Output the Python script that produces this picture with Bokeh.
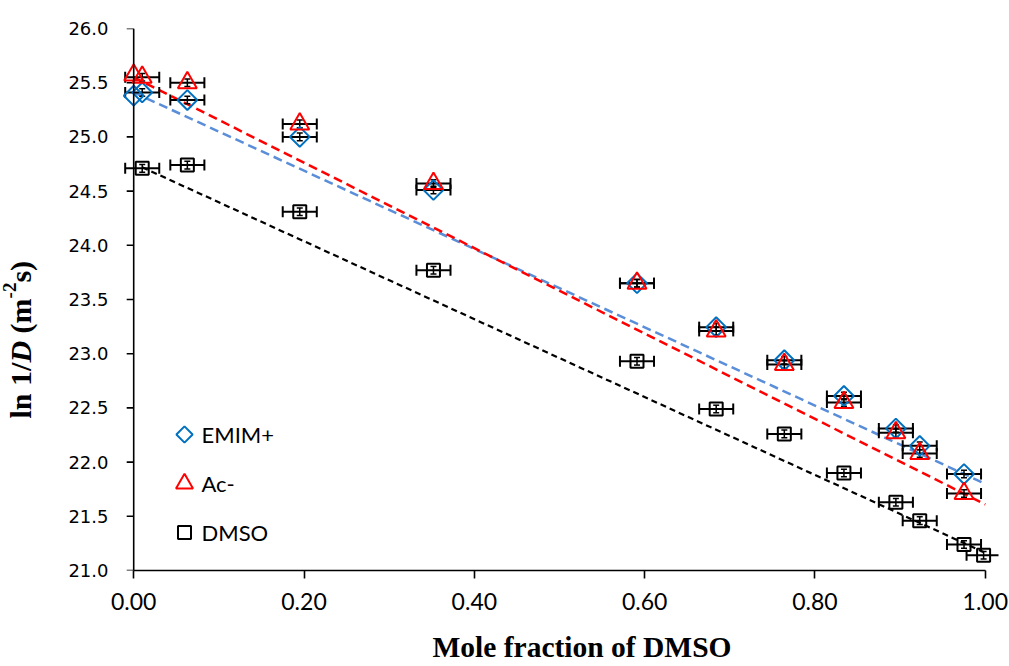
import numpy as np
from bokeh.plotting import figure
from bokeh.layouts import row
from bokeh.models import (ColumnDataSource, Range1d, FixedTicker, NumeralTickFormatter,
                          Span, Title)
from bokeh.core.properties import value
from bokeh.embed import file_html
from bokeh.resources import INLINE

# ---------------- data ----------------
x_ion = [0.0, 0.010, 0.063, 0.195, 0.352, 0.591, 0.684, 0.764, 0.834, 0.895, 0.923, 0.975]
emim = [25.38, 25.41, 25.34, 25.00, 24.51, 23.65, 23.245, 22.94, 22.61, 22.31, 22.15, 21.89]
ac = [25.57, 25.55, 25.50, 25.12, 24.57, 23.65, 23.21, 22.90, 22.55, 22.27, 22.08, 21.71]
xerr_ion = [0.0, 0.02, 0.02, 0.02, 0.02, 0.02, 0.02, 0.02, 0.02, 0.02, 0.02, 0.02]
yerr_ion = [0.0, 0.035, 0.035, 0.035, 0.035, 0.035, 0.035, 0.035, 0.035, 0.035, 0.035, 0.035]

x_dmso = [0.010, 0.063, 0.195, 0.352, 0.591, 0.684, 0.764, 0.834, 0.895, 0.923, 0.975, 0.998]
dmso = [24.71, 24.74, 24.31, 23.77, 22.93, 22.49, 22.26, 21.90, 21.63, 21.46, 21.24, 21.14]
xerr_dmso = [0.02, 0.02, 0.02, 0.02, 0.02, 0.02, 0.02, 0.02, 0.02, 0.02, 0.02, 0.02]
yerr_dmso = [0.035, 0.035, 0.035, 0.035, 0.035, 0.035, 0.035, 0.035, 0.035, 0.035, 0.035, 0.035]

# linear trend lines (end points)
emim_fit_x = [0.0, 1.0]
emim_fit_y = [25.41, 21.80]
ac_fit_x = [0.0, 1.0]
ac_fit_y = [25.55, 21.61]
dmso_fit_x = [0.010, 0.998]
dmso_fit_y = [24.72, 21.17]

x_ticks = [0.0, 0.2, 0.4, 0.6, 0.8, 1.0]
y_ticks = [21.0, 21.5, 22.0, 22.5, 23.0, 23.5, 24.0, 24.5, 25.0, 25.5, 26.0]

series_names = ["EMIM+", "Ac-", "DMSO"]
series_colors = ["#0070C0", "#FF0000", "black"]

x_title = "Mole fraction of DMSO"
# y title pieces: (text, style, font size, baseline shift px, advance px)
y_title_pieces = [("ln 1/", "bold", "30px", 0.0, 55.9),
                  ("D", "bold italic", "30px", 0.0, 29.2),
                  ("(m", "bold", "30px", 0.0, 35.0),
                  ("-2", "bold", "19px", -11.0, 15.8),
                  ("s)", "bold", "30px", 0.0, 21.7)]

# ---------------- layout constants (pixels) ----------------
TITLE_W = 60
W, H = 1009, 666
FRAME_L, FRAME_R, FRAME_T, FRAME_B = 120, 998, 28, 570
X_LO, X_HI = -0.0155, 1.0155
Y_LO, Y_HI = 21.0, 26.0
px_per_x = (FRAME_R - FRAME_L) / (X_HI - X_LO)
px_per_y = (FRAME_B - FRAME_T) / (Y_HI - Y_LO)


def dx(px):
    return X_LO + (px - FRAME_L) / px_per_x


def dy(py):
    return Y_HI - (py - FRAME_T) / px_per_y


# ---------------- main figure ----------------
p = figure(frame_width=FRAME_R - FRAME_L, frame_height=FRAME_B - FRAME_T,
           output_backend="svg", toolbar_location=None, title=None,
           x_range=Range1d(X_LO, X_HI), y_range=Range1d(Y_LO, Y_HI),
           min_border_left=FRAME_L - TITLE_W, min_border_right=W - FRAME_R,
           min_border_top=FRAME_T, min_border_bottom=H - FRAME_B)
p.outline_line_color = None
p.xgrid.visible = False
p.ygrid.visible = False
p.background_fill_color = "white"
p.border_fill_color = "white"

xa = p.xaxis[0]
xa.ticker = FixedTicker(ticks=x_ticks)
xa.formatter = NumeralTickFormatter(format="0.00")
xa.bounds = (0, 1)
xa.axis_line_color = "black"
xa.axis_line_width = 1.6
xa.major_tick_line_width = 1.6
xa.major_tick_out = 8
xa.major_tick_in = 0
xa.minor_tick_line_color = None
xa.major_label_text_font = "Lato"
xa.major_label_text_font_size = "23px"
xa.major_label_text_color = "black"
xa.major_label_standoff = 14

ya = p.yaxis[0]
ya.ticker = FixedTicker(ticks=y_ticks)
ya.formatter = NumeralTickFormatter(format="0.0")
ya.axis_line_color = None
ya.major_tick_line_color = None
ya.major_tick_out = 0
ya.major_tick_in = 0
ya.minor_tick_line_color = None
ya.major_label_text_font = "DejaVu Sans"
ya.major_label_text_font_size = "18px"
ya.major_label_text_color = "black"
ya.major_label_standoff = 12

# y axis line and ticks drawn at x = 0
p.add_layout(Span(location=0, dimension="height", line_color="black", line_width=1.6))
tick_len = 7 / px_per_x
p.segment(x0=[-tick_len] * len(y_ticks), x1=[0] * len(y_ticks), y0=y_ticks, y1=y_ticks,
          line_color="black", line_width=1.6)

# x axis title
p.add_layout(Title(text=x_title, align="left", offset=432 - FRAME_L,
                   text_font="Liberation Serif", text_font_style="bold",
                   text_font_size="29.5px", text_color="black", standoff=32), "below")

# trend lines
p.line(emim_fit_x, emim_fit_y, line_color="#5A8ED8", line_width=2.5, line_dash="9 5")
p.line(ac_fit_x, ac_fit_y, line_color="#FF0000", line_width=2.5, line_dash="9 5")
p.line(dmso_fit_x, dmso_fit_y, line_color="black", line_width=2.2, line_dash="6 4")


def error_bars(xs, ys, xe, ye):
    xs = np.asarray(xs); ys = np.asarray(ys); xe = np.asarray(xe); ye = np.asarray(ye)
    m = xe > 0
    src = ColumnDataSource(dict(x=xs[m], y=ys[m], xl=xs[m] - xe[m], xu=xs[m] + xe[m],
                                yl=ys[m] - ye[m], yu=ys[m] + ye[m]))
    p.segment(x0="xl", x1="xu", y0="y", y1="y", source=src, line_color="black", line_width=2)
    p.scatter(x="xl", y="y", source=src, marker="dash", angle=np.pi / 2, size=11,
              line_color="black", line_width=2)
    p.scatter(x="xu", y="y", source=src, marker="dash", angle=np.pi / 2, size=11,
              line_color="black", line_width=2)
    p.segment(x0="x", x1="x", y0="yl", y1="yu", source=src, line_color="black", line_width=1.5)
    p.scatter(x="x", y="yl", source=src, marker="dash", size=6, line_color="black", line_width=1.5)
    p.scatter(x="x", y="yu", source=src, marker="dash", size=6, line_color="black", line_width=1.5)


error_bars(x_ion, emim, xerr_ion, yerr_ion)
error_bars(x_ion, ac, xerr_ion, yerr_ion)
error_bars(x_dmso, dmso, xerr_dmso, yerr_dmso)

p.scatter(x_ion, emim, marker="square", angle=np.pi / 4, size=14,
          fill_color=None, line_color=series_colors[0], line_width=2)
p.scatter(x_ion, ac, marker="triangle", size=19,
          fill_color=None, line_color=series_colors[1], line_width=2)
p.scatter(x_dmso, dmso, marker="square", size=13,
          fill_color=None, line_color=series_colors[2], line_width=2)

# legend (keys drawn like the reference: diamond, triangle, square)
leg_y_px = [434, 483, 532]
leg_src = ColumnDataSource(dict(
    x=[dx(184)] * 3, y=[dy(v) for v in leg_y_px],
    marker=["square", "triangle", "square"], angle=[np.pi / 4, 0.0, 0.0],
    size=[11.5, 17, 13], color=series_colors,
    tx=[dx(201)] * 3, label=series_names))
p.scatter(x="x", y="y", marker="marker", angle="angle", size="size", line_color="color",
          fill_color=None, line_width=2, source=leg_src)
p.text(x="tx", y="y", text="label", source=leg_src, text_font=value("Lato"),
       text_font_size=value("22px"), text_baseline=value("middle"), text_align=value("left"),
       text_color="black")

# ---------------- left strip with the y-axis title ----------------
t = figure(frame_width=TITLE_W, frame_height=H, output_backend="svg", toolbar_location=None,
           x_range=Range1d(0, TITLE_W), y_range=Range1d(H, 0),
           x_axis_location=None, y_axis_location=None, min_border=0, title=None)
t.outline_line_color = None
t.xgrid.visible = False
t.ygrid.visible = False
t.background_fill_color = "white"
t.border_fill_color = "white"

offs = []
acc = 0.0
for piece in y_title_pieces:
    offs.append(-acc)
    acc += piece[4]
title_src = ColumnDataSource(dict(
    x=[20.0] * len(y_title_pieces), y=[390.0] * len(y_title_pieces),
    text=[pc[0] for pc in y_title_pieces], style=[pc[1] for pc in y_title_pieces],
    size=[pc[2] for pc in y_title_pieces], xo=[pc[3] for pc in y_title_pieces], yo=offs))
t.text(x="x", y="y", text="text", x_offset="xo", y_offset="yo", angle=np.pi / 2,
       text_font=value("Liberation Serif"), text_font_style="style",
       text_font_size="size", text_align=value("left"),
       text_baseline=value("alphabetic"), text_color="black", source=title_src)

layout = row(t, p, spacing=0)
open("out.html", "w").write(file_html(layout, INLINE))
